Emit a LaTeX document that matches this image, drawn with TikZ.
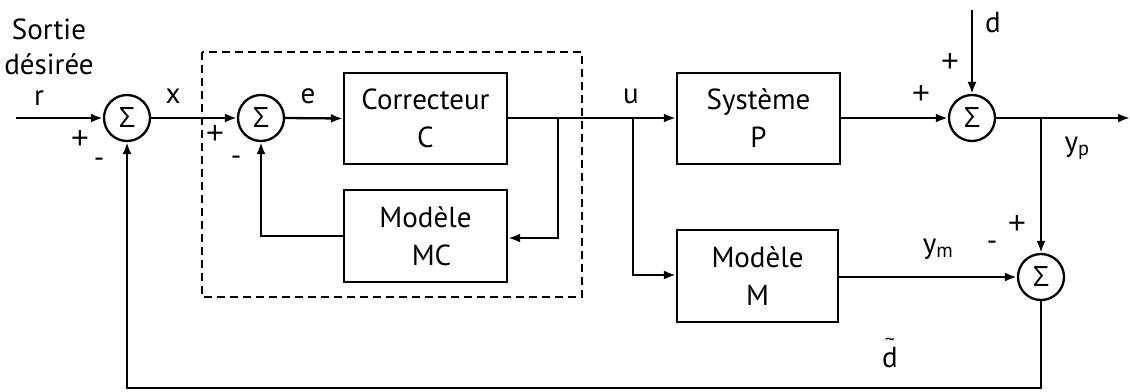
\documentclass[tikz,border=0pt]{standalone}
\usepackage{fontspec}
\setmainfont{PT Sans}
\newfontfamily\greekf{Open Sans}
\usetikzlibrary{arrows.meta,positioning}
\begin{document}
\begin{tikzpicture}[x=1pt,y=-1pt,
  font=\fontsize{29}{38}\selectfont,
  line width=2.3pt,
  >={Latex[length=12pt,width=9pt]},
  sumnode/.style={circle,draw,minimum size=46pt,inner sep=0pt,font=\greekf\fontsize{28}{30}\selectfont},
  blockbox/.style={draw,rectangle,inner sep=0pt,align=center},
  lbl/.style={inner sep=0pt,anchor=center},
  sgn/.style={inner sep=0pt,anchor=center,font=\greekf\fontsize{32}{32}\selectfont},
  msgn/.style={inner sep=0pt,anchor=center}]
\useasboundingbox (0,0) rectangle (1130,391);

% summing junctions
\node[sumnode] (s1) at (127,118) {Σ};
\node[sumnode] (s2) at (261,118) {Σ};
\node[sumnode] (s3) at (972,118) {Σ};
\node[sumnode] (s4) at (1041,277) {Σ};

% blocks
\node[blockbox,minimum width=163pt,minimum height=91pt] (C) at (425.5,118.5) {Correcteur\\C};
\node[blockbox,minimum width=163pt,minimum height=92pt] (MC) at (425.5,236) {Modèle\\\hspace*{12pt}MC};
\node[blockbox,minimum width=163pt,minimum height=91pt] (P) at (758.5,118.5) {Système\\P};
\node[blockbox,minimum width=161pt,minimum height=92pt] (M) at (757.5,276) {Modèle\\M};

% dashed frame
\draw[dashed,dash pattern=on 8pt off 5pt] (202,52) rectangle (582,297);

% auxiliary coordinates
\coordinate (in) at (16,118);
\coordinate (bC) at (558,118);
\coordinate (bMC) at (558,238);
\coordinate (bU) at (633,118);
\coordinate (bM) at (633,275);
\coordinate (cMC) at (261,236);
\coordinate (dtop) at (972,10);
\coordinate (out) at (1130,118);
\coordinate (bY) at (1041,118);
\coordinate (bot1) at (1041,388);
\coordinate (bot2) at (127,388);

% connectors
\draw[->] (in) -- (s1.west);
\draw[->] (s1.east) -- (s2.west);
\draw[->] (s2.east) -- (C.west);
\draw[->] (C.east |- bC) -- (P.west |- bC);
\draw[->] (bC) -- (bMC) -- (MC.east |- bMC);
\draw[->] (bU) -- (bM) -- (M.west |- bM);
\draw[->] (MC.west |- cMC) -- (cMC) -- (s2.south);
\draw[->] (P.east |- s3) -- (s3.west);
\draw[->] (dtop) -- (s3.north);
\draw[->] (s3.east) -- (out);
\draw[->] (bY) -- (s4.north);
\draw[->] (M.east |- s4) -- (s4.west);
\draw[->] (s4.south) -- (bot1) -- (bot2) -- (s1.south);

% labels
\node[lbl,align=center,font=\fontsize{29}{35}\selectfont] (lsd) at (49,47) {Sortie\\désirée};
\node[lbl] (lr) at (39,98) {r};
\node[sgn] (p1) at (80,140) {+};
\node[msgn] (m1) at (99,163) {-};
\node[lbl] (lx) at (173,96) {x};
\node[sgn] (p2) at (215,135) {+};
\node[msgn] (m2) at (236,161) {-};
\node[lbl] (le) at (308,96) {e};
\node[lbl] (lu) at (631,96) {u};
\node[sgn] (p3) at (921,95) {+};
\node[sgn] (p4) at (950,63) {+};
\node[lbl] (ld) at (993,23) {d};
\node[lbl] (lyp) at (1077,148) {y\textsubscript{p}};
\node[sgn] (p5) at (1017,225) {+};
\node[msgn] (m5) at (992,246) {-};
\node[lbl] (lym) at (938,249) {y\textsubscript{m}};
\node[lbl,align=center,font=\fontsize{29}{19}\selectfont] (ldt) at (890,353) {{\fontsize{20}{19}\selectfont\char`\~}\\d};
\end{tikzpicture}
\end{document}
